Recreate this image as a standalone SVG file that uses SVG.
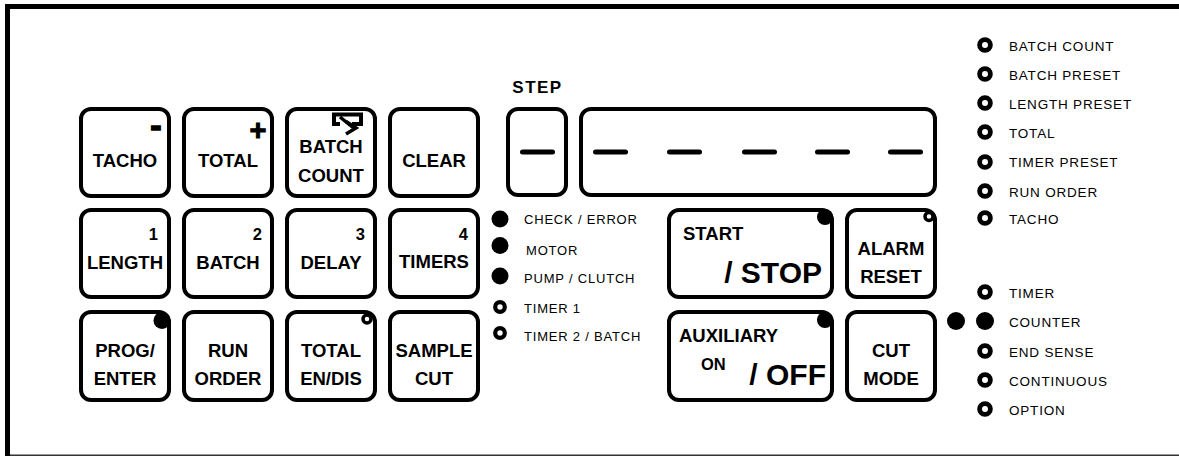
<svg xmlns="http://www.w3.org/2000/svg" width="1179" height="456" viewBox="0 0 1179 456">
<style>
.key{fill:#fff;stroke:#000;stroke-width:4;}
.kt{font-family:"Liberation Sans",Arial,sans-serif;font-weight:bold;font-size:18.5px;fill:#000;text-anchor:middle;}
.num{font-family:"Liberation Sans",Arial,sans-serif;font-weight:bold;font-size:16.5px;fill:#000;text-anchor:end;}
.big{font-family:"Liberation Sans",Arial,sans-serif;font-weight:bold;font-size:30px;fill:#000;text-anchor:end;}
.lt{font-family:"Liberation Sans",Arial,sans-serif;font-size:13px;letter-spacing:0.8px;fill:#000;}
.rt{font-family:"Liberation Sans",Arial,sans-serif;font-size:13.5px;letter-spacing:0.8px;fill:#000;}
.dot{fill:#000;}
.ring{fill:#fff;stroke:#000;stroke-width:4.2;}
.rring{fill:#fff;stroke:#000;stroke-width:4.8;}
.kring{fill:#fff;stroke:#000;stroke-width:3.5;}
.dash{stroke:#000;stroke-width:5;stroke-linecap:round;}
</style>
<rect x="0" y="0" width="1179" height="456" fill="#fff"/>
<g id="frame">
<rect x="5" y="4" width="1174" height="5" fill="#000"/>
<rect x="5" y="4" width="5" height="452" fill="#000"/>
<rect x="10" y="454.5" width="1169" height="1.5" fill="#333"/>
</g>

<g id="key-tacho"><rect class="key" x="81" y="109" width="88" height="87" rx="10"/>
<text class="kt" x="156" y="137" style="font-size:34px;stroke:#000;stroke-width:1.4">-</text>
<text class="kt" x="125" y="167">TACHO</text></g>
<g id="key-total"><rect class="key" x="184" y="109" width="88" height="87" rx="10"/>
<text class="kt" x="258" y="140" style="font-size:29px;stroke:#000;stroke-width:1">+</text>
<text class="kt" x="228" y="167">TOTAL</text></g>
<g id="key-batch-count"><rect class="key" x="287" y="109" width="88" height="87" rx="10"/>
<path d="M352 124 H361 V114.5 H334 V124 H340" fill="none" stroke="#000" stroke-width="4"/>
<path d="M340 117 L353 127.5" fill="none" stroke="#000" stroke-width="3.5"/>
<path d="M346 121.5 L356 128 L346 134" fill="none" stroke="#000" stroke-width="3.5"/>
<text class="kt" x="331" y="153">BATCH</text>
<text class="kt" x="331" y="182">COUNT</text></g>
<g id="key-clear"><rect class="key" x="390" y="109" width="88" height="87" rx="10"/>
<text class="kt" x="434" y="167">CLEAR</text></g>

<g id="key-length"><rect class="key" x="81" y="210" width="88" height="87" rx="10"/>
<text class="num" x="158" y="240">1</text><text class="kt" x="125" y="269">LENGTH</text></g>
<g id="key-batch"><rect class="key" x="184" y="210" width="88" height="87" rx="10"/>
<text class="num" x="262" y="240">2</text><text class="kt" x="228" y="269">BATCH</text></g>
<g id="key-delay"><rect class="key" x="287" y="210" width="88" height="87" rx="10"/>
<text class="num" x="365" y="240">3</text><text class="kt" x="331" y="269">DELAY</text></g>
<g id="key-timers"><rect class="key" x="390" y="210" width="88" height="87" rx="10"/>
<text class="num" x="468" y="240">4</text><text class="kt" x="434" y="268">TIMERS</text></g>

<g id="key-prog"><rect class="key" x="81" y="312" width="88" height="88" rx="10"/>
<circle class="dot" cx="162" cy="320.5" r="8.5"/>
<text class="kt" x="125" y="357">PROG/</text><text class="kt" x="125" y="385">ENTER</text></g>
<g id="key-run-order"><rect class="key" x="184" y="312" width="88" height="88" rx="10"/>
<text class="kt" x="228" y="357">RUN</text><text class="kt" x="228" y="385">ORDER</text></g>
<g id="key-total-endis"><rect class="key" x="287" y="312" width="88" height="88" rx="10"/>
<circle class="kring" cx="367" cy="319" r="4"/>
<text class="kt" x="331" y="357">TOTAL</text><text class="kt" x="331" y="385">EN/DIS</text></g>
<g id="key-sample-cut"><rect class="key" x="390" y="312" width="88" height="88" rx="10"/>
<text class="kt" x="434" y="357">SAMPLE</text><text class="kt" x="434" y="385">CUT</text></g>

<g id="step"><text class="kt" x="537.5" y="93" style="font-size:17px;letter-spacing:1.5px">STEP</text>
<rect class="key" x="508" y="109" width="58" height="86" rx="10"/>
<line class="dash" x1="522.5" y1="152" x2="552.5" y2="152"/></g>
<g id="display"><rect class="key" x="581" y="109" width="354" height="86" rx="10"/>
<line class="dash" x1="595.5" y1="152" x2="625.5" y2="152"/>
<line class="dash" x1="669.5" y1="152" x2="699.5" y2="152"/>
<line class="dash" x1="744.5" y1="152" x2="774.5" y2="152"/>
<line class="dash" x1="817.5" y1="152" x2="847.5" y2="152"/>
<line class="dash" x1="890.5" y1="152" x2="920.5" y2="152"/></g>

<g id="key-start-stop"><rect class="key" x="669" y="210" width="163" height="87" rx="10"/>
<circle class="dot" cx="825" cy="217" r="8"/>
<text class="kt" x="683" y="240" style="text-anchor:start">START</text>
<text class="big" x="822" y="283">/ STOP</text></g>
<g id="key-auxiliary"><rect class="key" x="669" y="312" width="163" height="88" rx="10"/>
<circle class="dot" cx="825" cy="320" r="8"/>
<text class="kt" x="679" y="342" style="text-anchor:start">AUXILIARY</text>
<text class="kt" x="701" y="370" style="text-anchor:start;font-size:16.5px">ON</text>
<text class="big" x="826" y="385">/ OFF</text></g>
<g id="key-alarm-reset"><rect class="key" x="847" y="210" width="88" height="87" rx="10"/>
<circle class="kring" cx="929" cy="216.5" r="4"/>
<text class="kt" x="891" y="255">ALARM</text><text class="kt" x="891" y="283">RESET</text></g>
<g id="key-cut-mode"><rect class="key" x="847" y="312" width="88" height="88" rx="10"/>
<text class="kt" x="891" y="357">CUT</text><text class="kt" x="891" y="385">MODE</text></g>

<g id="status-leds">
<circle class="dot" cx="500" cy="219" r="8.5"/><text class="lt" x="524" y="224">CHECK / ERROR</text>
<circle class="dot" cx="500" cy="245.5" r="8.5"/><text class="lt" x="526" y="255">MOTOR</text>
<circle class="dot" cx="500" cy="276" r="8.5"/><text class="lt" x="524" y="283">PUMP / CLUTCH</text>
<circle class="ring" cx="500" cy="307" r="4.8"/><text class="lt" x="524" y="313">TIMER 1</text>
<circle class="ring" cx="500" cy="333" r="4.8"/><text class="lt" x="524" y="341">TIMER 2 / BATCH</text>
</g>

<g id="display-leds">
<circle class="rring" cx="985" cy="45" r="5.4"/><text class="rt" x="1009" y="51">BATCH COUNT</text>
<circle class="rring" cx="985" cy="74" r="5.4"/><text class="rt" x="1009" y="80">BATCH PRESET</text>
<circle class="rring" cx="985" cy="103" r="5.4"/><text class="rt" x="1009" y="109">LENGTH PRESET</text>
<circle class="rring" cx="985" cy="132" r="5.4"/><text class="rt" x="1009" y="138">TOTAL</text>
<circle class="rring" cx="985" cy="162" r="5.4"/><text class="rt" x="1009" y="167">TIMER PRESET</text>
<circle class="rring" cx="985" cy="191" r="5.4"/><text class="rt" x="1009" y="197">RUN ORDER</text>
<circle class="rring" cx="985" cy="218" r="5.4"/><text class="rt" x="1009" y="224">TACHO</text>
</g>

<g id="mode-leds">
<circle class="rring" cx="985" cy="292" r="5.4"/><text class="rt" x="1009" y="298">TIMER</text>
<circle class="dot" cx="956" cy="321" r="9"/>
<circle class="dot" cx="985" cy="321" r="9"/><text class="rt" x="1009" y="327">COUNTER</text>
<circle class="rring" cx="985" cy="351" r="5.4"/><text class="rt" x="1009" y="357">END SENSE</text>
<circle class="rring" cx="985" cy="380" r="5.4"/><text class="rt" x="1009" y="386">CONTINUOUS</text>
<circle class="rring" cx="985" cy="409" r="5.4"/><text class="rt" x="1009" y="415">OPTION</text>
</g>
<g id="connectors"/>
</svg>
